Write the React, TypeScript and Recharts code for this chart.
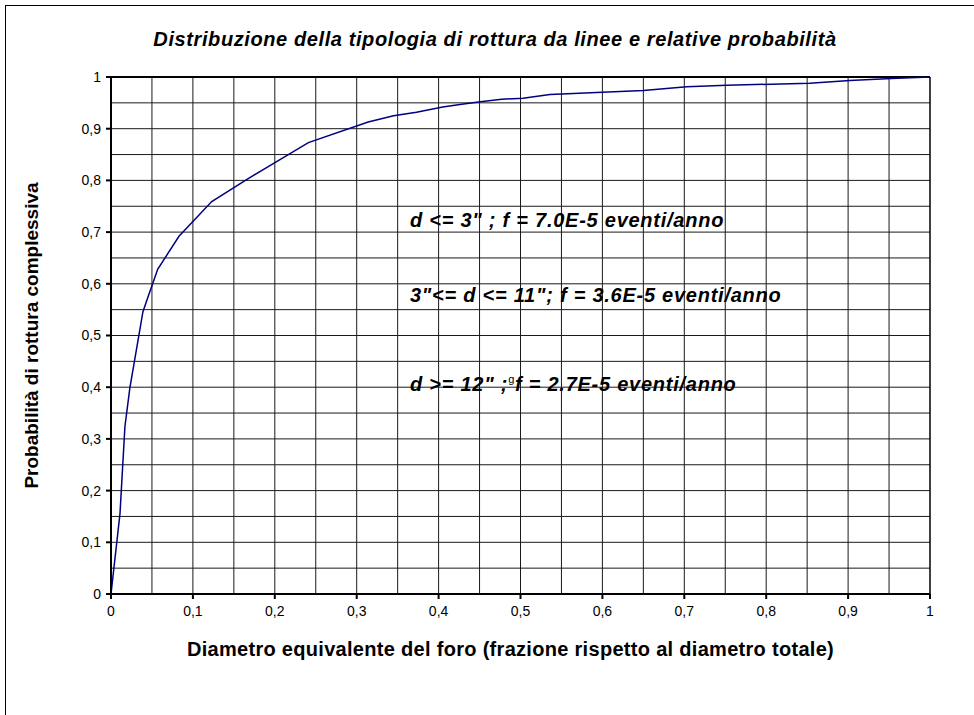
import React from "react";
import {
  LineChart,
  Line,
  XAxis,
  YAxis,
  ReferenceLine,
} from "recharts";

// hole diameter as a fraction of the total diameter
const diameterFraction = [
  0, 0.011, 0.017, 0.023, 0.039, 0.044, 0.057, 0.083, 0.123, 0.167, 0.241,
  0.314, 0.345, 0.373, 0.405, 0.426, 0.451, 0.477, 0.503, 0.536, 0.65, 0.703,
  0.752, 0.853, 0.902, 0.953, 1.0,
];
// cumulative probability of rupture
const cumulativeProb = [
  0, 0.156, 0.324, 0.398, 0.546, 0.569, 0.628, 0.692, 0.759, 0.803, 0.873,
  0.913, 0.925, 0.932, 0.942, 0.947, 0.952, 0.957, 0.959, 0.966, 0.974, 0.981,
  0.984, 0.988, 0.993, 0.997, 1.0,
];

const axisTicks = [0, 0.1, 0.2, 0.3, 0.4, 0.5, 0.6, 0.7, 0.8, 0.9, 1];
const gridLines = [
  0.05, 0.1, 0.15, 0.2, 0.25, 0.3, 0.35, 0.4, 0.45, 0.5, 0.55, 0.6, 0.65,
  0.7, 0.75, 0.8, 0.85, 0.9, 0.95,
];

const data = diameterFraction.map((x, i) => ({ x, p: cumulativeProb[i] }));

const FONT = '"Liberation Sans", Arial, sans-serif';
const fmt = (v: number) => String(v).replace(".", ",");

const noteStyle: React.CSSProperties = {
  position: "absolute",
  left: 410,
  fontFamily: FONT,
  fontWeight: "bold",
  fontStyle: "italic",
  fontSize: 20,
  letterSpacing: 0.75,
  lineHeight: "22px",
  whiteSpace: "nowrap",
  color: "#000",
};

export default function App() {
  return (
    <div
      style={{
        position: "fixed",
        left: 0,
        top: 0,
        width: 974,
        height: 715,
        background: "#fff",
        overflow: "hidden",
      }}
    >
      {/* outer frame */}
      <div
        style={{
          position: "absolute",
          left: 5,
          top: 5,
          width: 1000,
          height: 1000,
          borderLeft: "1px solid #000",
          borderTop: "1px solid #000",
        }}
      />
      <div
        style={{
          position: "absolute",
          left: 0,
          width: 990,
          top: 27,
          textAlign: "center",
          fontFamily: FONT,
          fontWeight: "bold",
          fontStyle: "italic",
          fontSize: 20,
          letterSpacing: 0.6,
          lineHeight: "24px",
        }}
      >
        Distribuzione della tipologia di rottura da linee e relative probabilità
      </div>

      <LineChart
        width={974}
        height={715}
        data={data}
        margin={{ top: 77, right: 44, bottom: 59, left: 0 }}
        style={{ position: "absolute", left: 0, top: 0 }}
      >
        {gridLines.map((v) => (
          <ReferenceLine key={"v" + v} x={v} stroke="#1a1a1a" strokeWidth={1} />
        ))}
        {gridLines.map((v) => (
          <ReferenceLine key={"h" + v} y={v} stroke="#1a1a1a" strokeWidth={1} />
        ))}
        <ReferenceLine x={1} stroke="#000" strokeWidth={1.5} />
        <ReferenceLine y={1} stroke="#000" strokeWidth={2} />
        <XAxis
          dataKey="x"
          type="number"
          domain={[0, 1]}
          ticks={axisTicks}
          tickFormatter={fmt}
          height={62}
          tickSize={5}
          tickMargin={7}
          stroke="#000"
          strokeWidth={2}
          tick={{ fill: "#000", fontSize: 14, fontFamily: FONT }}
          label={{
            value:
              "Diametro equivalente del foro (frazione rispetto al diametro totale)",
            position: "insideBottom",
            offset: 0,
            dx: -10,
            fill: "#000",
            fontSize: 20,
            letterSpacing: 0.3,
            fontWeight: "bold",
            fontFamily: FONT,
          }}
        />
        <YAxis
          type="number"
          domain={[0, 1]}
          ticks={axisTicks}
          tickFormatter={fmt}
          width={111}
          tickSize={5}
          tickMargin={5}
          stroke="#000"
          strokeWidth={2}
          tick={{ fill: "#000", fontSize: 14, fontFamily: FONT }}
          label={{
            value: "Probabilità di rottura complessiva",
            angle: -90,
            position: "insideLeft",
            offset: 31,
            fill: "#000",
            fontSize: 19,
            fontWeight: "bold",
            fontFamily: FONT,
            style: { textAnchor: "middle" },
          }}
        />
        <Line
          type="linear"
          dataKey="p"
          stroke="#000080"
          strokeWidth={1.5}
          dot={false}
          isAnimationActive={false}
        />
      </LineChart>

      <div style={{ ...noteStyle, top: 209 }}>
        d &lt;= 3" ; f = 7.0E-5 eventi/anno
      </div>
      <div style={{ ...noteStyle, top: 284 }}>
        3"&lt;= d &lt;= 11"; f = 3.6E-5 eventi/anno
      </div>
      <div style={{ ...noteStyle, top: 368 }}>
        d &gt;= 12" ;
        <sup style={{ fontSize: 11, fontWeight: "normal", fontStyle: "normal" }}>
          g
        </sup>
        f = 2.7E-5 eventi/anno
      </div>
    </div>
  );
}
